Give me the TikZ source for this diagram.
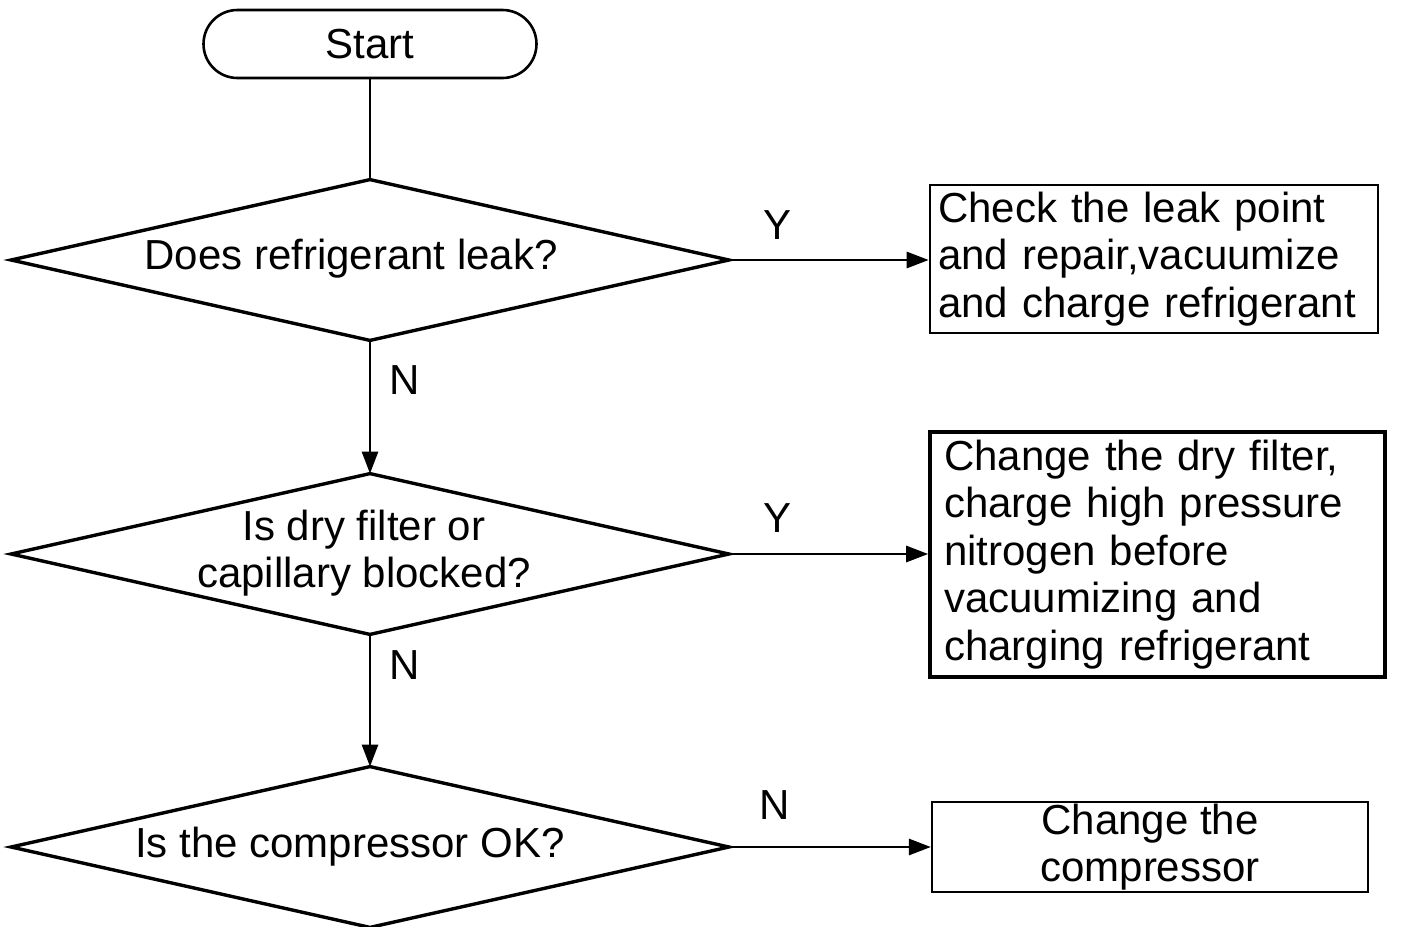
\documentclass[tikz,border=0pt]{standalone}
\usepackage{fontspec}
\setmainfont{Liberation Sans}
\usetikzlibrary{arrows.meta}
\begin{document}
\begin{tikzpicture}[x=0.5pt,y=-0.5pt,
  every node/.style={font=\fontsize{21}{23.75}\selectfont, inner sep=0pt},
  line/.style={line width=1.4pt},
  arrow/.style={line, -{Triangle[length=11pt,width=8pt]}},
  terminal/.style={draw, line width=1.3pt, rounded corners=17pt,
    minimum width=166.5pt, minimum height=34pt},
  frame/.style={minimum width=358.5pt, minimum height=80pt},
  diamondline/.style={line width=1.7pt},
  actionbox/.style={draw, line width=1.3pt},
]
\useasboundingbox (0,0) rectangle (1410,927);

% start terminal
\node[terminal] (start) at (370,44) {Start};

% decision frames and their questions
\node[frame] (d1) at (370,260) {};
\node[frame] (d2) at (370,554) {};
\node[frame] (d3) at (370,847) {};
\foreach \d in {d1,d2,d3}
  \draw[diamondline] (\d.north) -- (\d.east) -- (\d.south) -- (\d.west) -- cycle;

\node (q1) at (351,259) {Does refrigerant leak?};
\node[align=center] (q2) at (364,553) {Is dry filter or\\capillary blocked?};
\node (q3) at (350,847) {Is the compressor OK?};

% action boxes
\node[actionbox, minimum width=224pt, minimum height=74pt,
      text width=216pt, align=left, inner xsep=4pt] (b1) at (1154,259)
  {Check the leak point\\and repair,vacuumize\\and charge refrigerant};
\node[actionbox, line width=1.8pt, minimum width=227.5pt, minimum height=122.5pt,
      text width=213.5pt, align=left, inner xsep=7pt] (b2) at (1157.5,554.5)
  {Change the dry filter,\\charge high pressure\\nitrogen before\\vacuumizing and\\charging refrigerant};
\node[actionbox, line width=1.1pt, minimum width=218pt, minimum height=45pt,
      align=center] (b3) at (1150,847)
  {Change the\\compressor};

% connectors
\draw[line] (start.south) -- (d1.north);
\draw[arrow] (d1.south) -- (d2.north);
\draw[arrow] (d2.south) -- (d3.north);
\draw[arrow] (d1.east) -- (d1.east -| b1.west);
\draw[arrow] (d2.east) -- (d2.east -| b2.west);
\draw[arrow] (d3.east) -- (d3.east -| b3.west);

% branch labels
\node (y1) at (778,225) {Y};
\node (y2) at (778,518) {Y};
\node (n3) at (775,805) {N};
\node (n1) at (405,380) {N};
\node (n2) at (405,665) {N};
\end{tikzpicture}
\end{document}
